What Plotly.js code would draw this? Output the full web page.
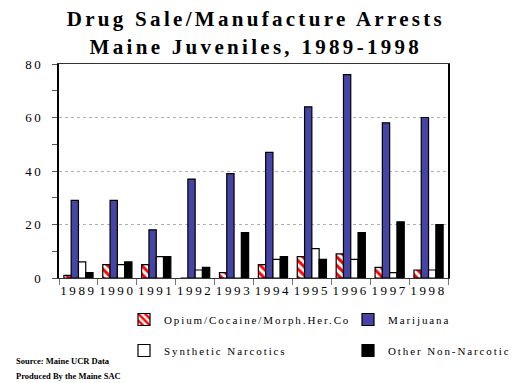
<!DOCTYPE html>
<html>
<head>
<meta charset="utf-8">
<script src="https://cdn.plot.ly/plotly-3.0.1.min.js"></script>
<style>
html, body { margin: 0; padding: 0; background: #fff; }
#chart { width: 518px; height: 383px; }
.gtitle { letter-spacing: 3.3px; }
.xtick text, .ytick text { letter-spacing: 2.6px; }
.legendtext { letter-spacing: 1.9px; }
</style>
</head>
<body>
<div id="chart"></div>
<script>
const years = ['1989','1990','1991','1992','1993','1994','1995','1996','1997','1998'];
const opiumCocaine = [1, 5, 5, 0, 2, 5, 8, 9, 4, 3];
const marijuana = [29, 29, 18, 37, 39, 47, 64, 76, 58, 60];
const syntheticNarcotics = [6, 5, 8, 3, 0, 7, 11, 7, 2, 3];
const otherNonNarcotic = [2, 6, 8, 4, 17, 8, 7, 17, 21, 20];
const seriesNames = ['Opium/Cocaine/Morph.Her.Co', 'Marijuana', 'Synthetic Narcotics', 'Other Non-Narcotic'];

const serif = 'Liberation Serif, Times New Roman, serif';
const outline = {color: '#000', width: 1.2};

const traces = [
  {type: 'bar', name: seriesNames[0], x: years, y: opiumCocaine, legend: 'legend', legendgroup: 'a',
   marker: {color: '#fff', line: outline, pattern: {shape: '\\', fgcolor: '#ff0000', bgcolor: '#ffffff', size: 6, solidity: 0.5}}},
  {type: 'bar', name: seriesNames[1], x: years, y: marijuana, legend: 'legend2', legendgroup: 'b',
   marker: {color: '#4545a5', line: outline}},
  {type: 'bar', name: seriesNames[2], x: years, y: syntheticNarcotics, legend: 'legend', legendgroup: 'c',
   marker: {color: '#ffffff', line: outline}},
  {type: 'bar', name: seriesNames[3], x: years, y: otherNonNarcotic, legend: 'legend2', legendgroup: 'd',
   marker: {color: '#000000', line: outline}}
];

// plot area in pixels: x 59..448, y 64..278
const PL = 59, PW = 389, PT = 64, PH = 214;
const px = v => (v - PL) / PW;
const py = v => (PT + PH - v) / PH;

const legendBase = {
  xanchor: 'left', yanchor: 'top',
  orientation: 'v', traceorder: 'grouped', tracegroupgap: 12,
  font: {family: serif, size: 11, color: '#000'}, bgcolor: 'rgba(0,0,0,0)'
};

const layout = {
  width: 518, height: 383,
  margin: {l: PL, r: 518 - PL - PW, t: PT, b: 383 - PT - PH, autoexpand: false},
  paper_bgcolor: '#fff', plot_bgcolor: '#fff',
  barmode: 'group', bargap: 0.25, bargroupgap: 0,
  title: {
    text: '<b>Drug Sale/Manufacture Arrests<br>Maine Juveniles, 1989-1998</b>',
    font: {family: serif, size: 21, color: '#000'},
    x: 0.494, xanchor: 'center', xref: 'container',
    y: 0.931, yanchor: 'top', yref: 'container'
  },
  xaxis: {
    type: 'category', tickson: 'boundaries', ticks: 'outside', ticklen: 6, tickcolor: '#777',
    showline: true, linecolor: '#333', linewidth: 1, mirror: true,
    tickfont: {family: serif, size: 13, color: '#000'}, showgrid: false, tickangle: 0
  },
  yaxis: {
    range: [0, 80], dtick: 20, ticks: 'outside', ticklen: 5, tickcolor: '#555',
    showline: true, linecolor: '#000', linewidth: 2, mirror: true,
    showgrid: true, gridcolor: '#b0b0b0', griddash: 'dot', gridwidth: 1,
    zeroline: false, ticklabelstandoff: 6,
    minor: {dtick: 10, ticks: 'outside', ticklen: 5, tickcolor: '#555', showgrid: false},
    tickfont: {family: serif, size: 13, color: '#000'}
  },
  showlegend: true,
  legend: Object.assign({}, legendBase, {x: px(124), y: py(305)}),
  legend2: Object.assign({}, legendBase, {x: px(348), y: py(305)}),
  annotations: [
    {xref: 'paper', yref: 'paper', x: px(14), y: py(361), xanchor: 'left', yanchor: 'middle',
     text: '<b>Source: Maine UCR Data</b>', showarrow: false, font: {family: serif, size: 8.5, color: '#000'}},
    {xref: 'paper', yref: 'paper', x: px(14), y: py(376), xanchor: 'left', yanchor: 'middle',
     text: '<b>Produced By the Maine SAC</b>', showarrow: false, font: {family: serif, size: 8.5, color: '#000'}}
  ]
};

const gd = document.getElementById('chart');
Plotly.newPlot(gd, traces, layout, {displayModeBar: false, staticPlot: true}).then(() => {
  gd.querySelectorAll('.infolayer g[class*="legend"] text').forEach(t => {
    t.style.letterSpacing = '1.9px';
  });
  gd.querySelectorAll('.infolayer g[class*="legend"] [clip-path]').forEach(e => {
    e.removeAttribute('clip-path');
  });
});
</script>
</body>
</html>
